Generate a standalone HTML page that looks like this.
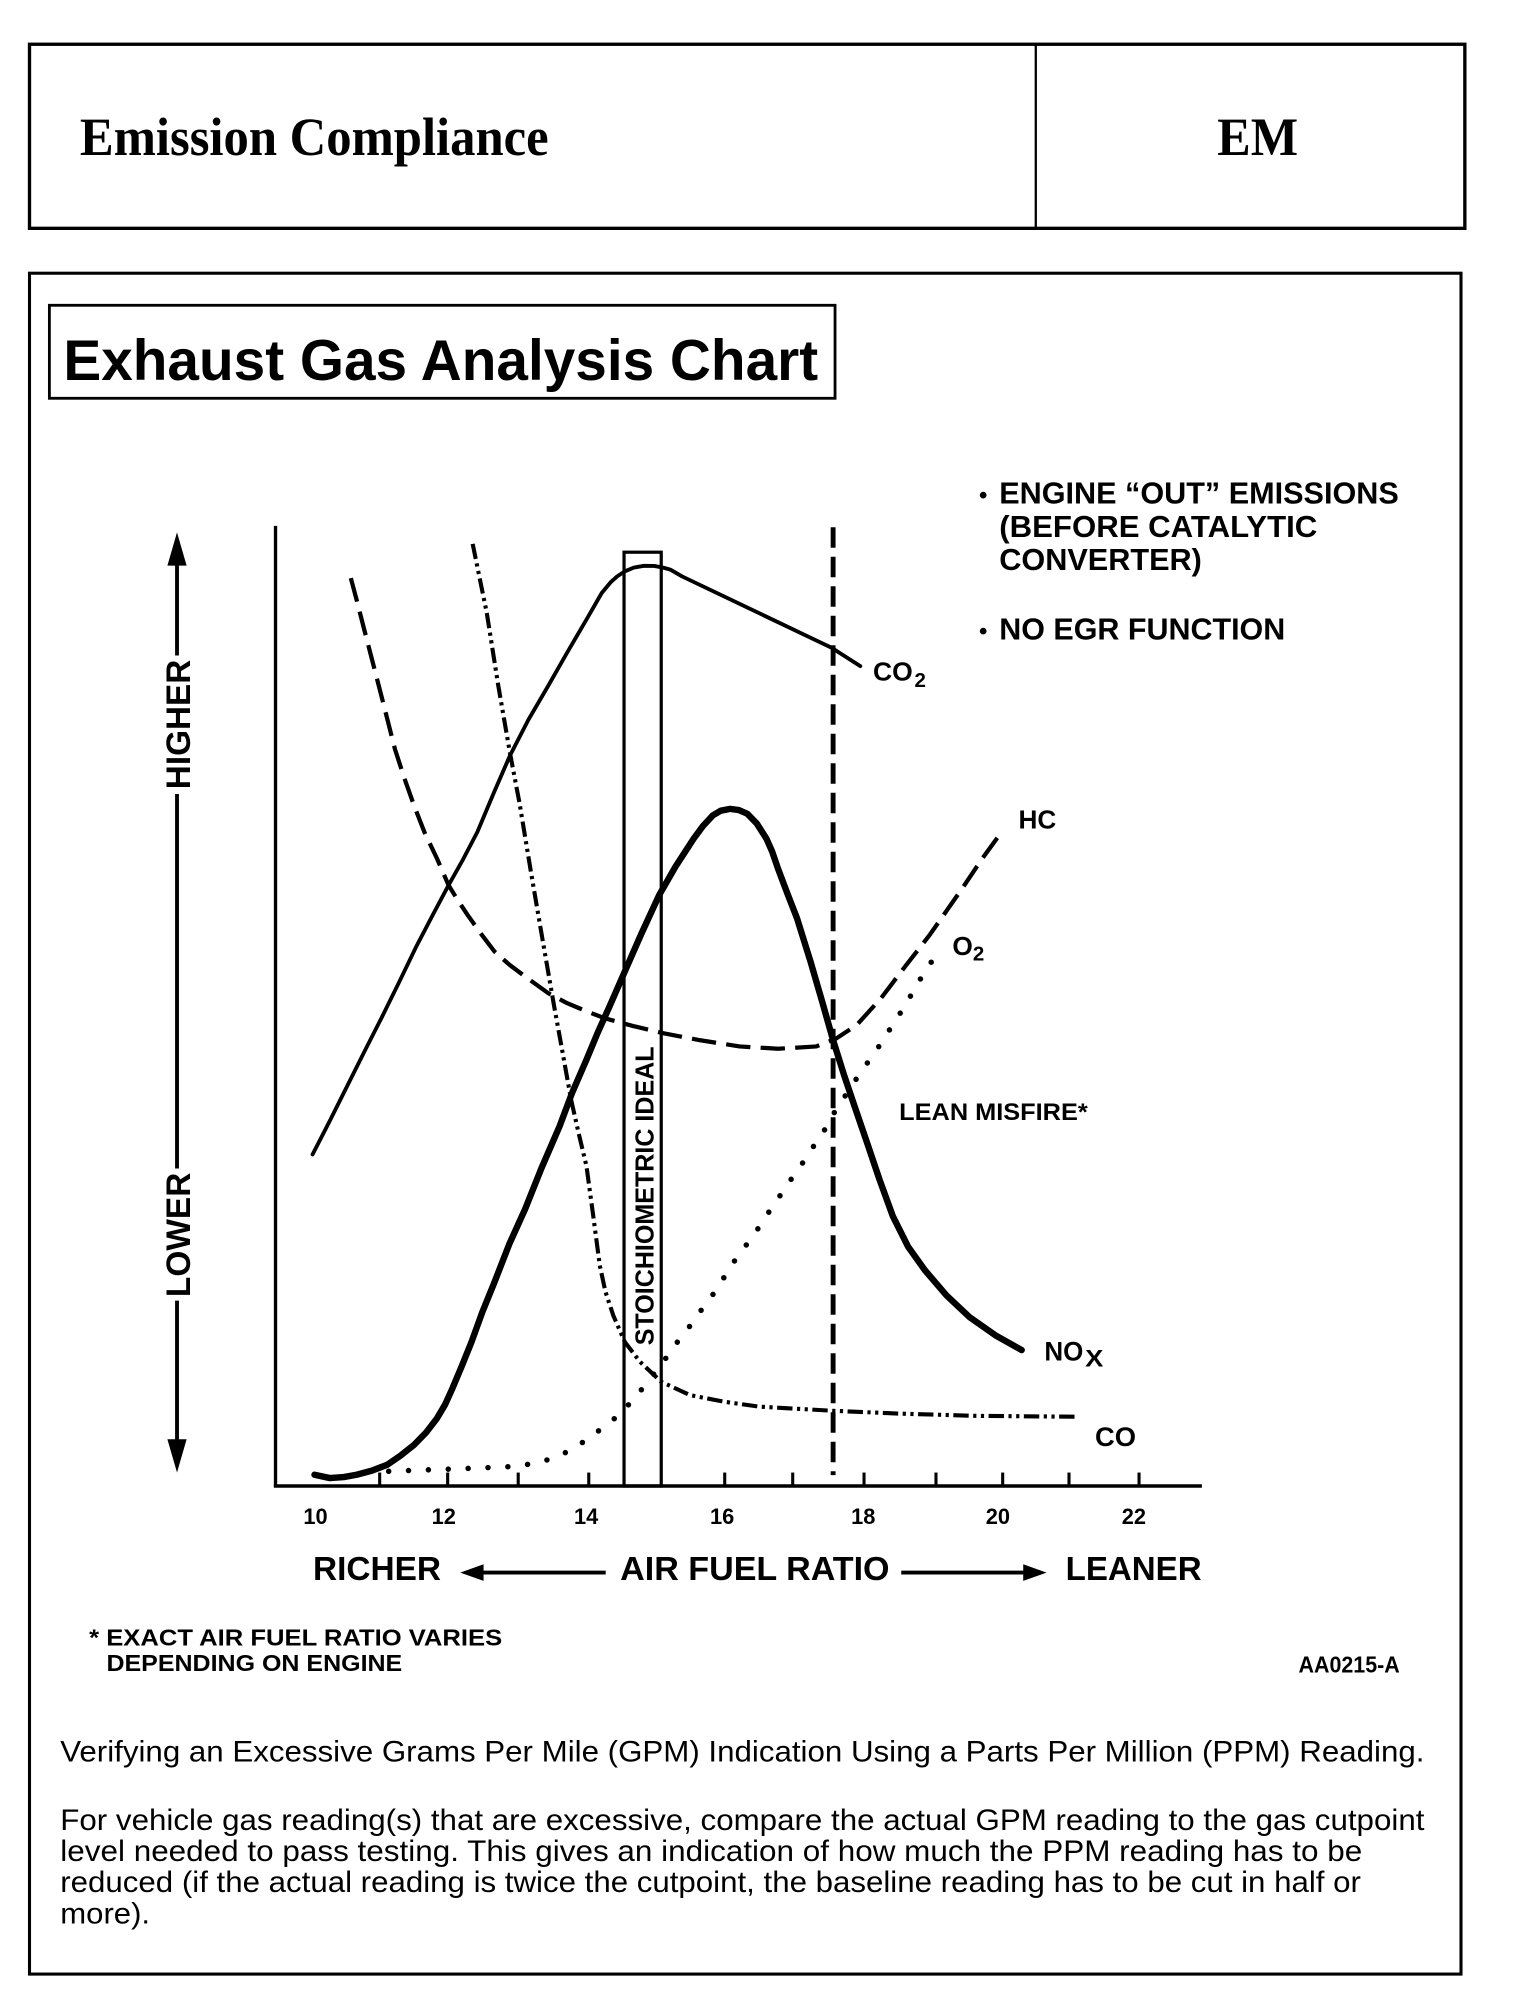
<!DOCTYPE html>
<html>
<head>
<meta charset="utf-8">
<style>
html,body{margin:0;padding:0;background:#fff;}
svg{display:block;}
.s{font-family:"Liberation Sans",Arial,sans-serif;font-weight:bold;fill:#000;}
.r{font-family:"Liberation Sans",Arial,sans-serif;font-weight:normal;fill:#000;}
.t{font-family:"Liberation Serif","Times New Roman",serif;font-weight:bold;fill:#000;}
</style>
</head>
<body>
<svg width="1520" height="2010" viewBox="0 0 1185 1567" preserveAspectRatio="none" xmlns="http://www.w3.org/2000/svg">
<rect x="0" y="0" width="1185" height="1567" fill="#fff"/>

<!-- Header box -->
<rect x="23" y="34.5" width="1119" height="143.5" fill="none" stroke="#000" stroke-width="2.6"/>
<line x1="807.5" y1="35" x2="807.5" y2="178" stroke="#000" stroke-width="1.8"/>
<text class="t" x="62.3" y="120.8" font-size="42" textLength="365.4" lengthAdjust="spacingAndGlyphs">Emission Compliance</text>
<text class="t" x="949" y="120.8" font-size="42" textLength="63" lengthAdjust="spacingAndGlyphs">EM</text>

<!-- Chart box -->
<rect x="23" y="213" width="1116" height="1326" fill="none" stroke="#000" stroke-width="2.4"/>

<!-- Title box -->
<rect x="38.5" y="238" width="612.5" height="72.5" fill="none" stroke="#000" stroke-width="2.2"/>
<text class="s" x="49.4" y="296.3" font-size="45" textLength="588.4" lengthAdjust="spacingAndGlyphs">Exhaust Gas Analysis Chart</text>

<!-- Legend text -->
<circle cx="766.5" cy="386" r="2.6" fill="#000"/>
<circle cx="766.5" cy="492" r="2.6" fill="#000"/>
<text class="s" x="779" y="392.6" font-size="23.5" textLength="311.5" lengthAdjust="spacingAndGlyphs">ENGINE “OUT” EMISSIONS</text>
<text class="s" x="779" y="418.5" font-size="23.5" textLength="248" lengthAdjust="spacingAndGlyphs">(BEFORE CATALYTIC</text>
<text class="s" x="779" y="444.5" font-size="23.5" textLength="158" lengthAdjust="spacingAndGlyphs">CONVERTER)</text>
<text class="s" x="779" y="498.4" font-size="23.5" textLength="223" lengthAdjust="spacingAndGlyphs">NO EGR FUNCTION</text>

<!-- Left vertical arrow -->
<polygon points="138,415 130.5,441 145.5,441" fill="#000"/>
<line x1="138" y1="440" x2="138" y2="511" stroke="#000" stroke-width="3"/>
<line x1="138" y1="619" x2="138" y2="911" stroke="#000" stroke-width="3"/>
<line x1="138" y1="1014" x2="138" y2="1124" stroke="#000" stroke-width="3"/>
<polygon points="138,1148 130.5,1122 145.5,1122" fill="#000"/>
<text class="s" transform="translate(148,564.8) rotate(-90)" x="0" y="0" font-size="27" text-anchor="middle" textLength="101" lengthAdjust="spacingAndGlyphs">HIGHER</text>
<text class="s" transform="translate(148,962.7) rotate(-90)" x="0" y="0" font-size="27" text-anchor="middle" textLength="97" lengthAdjust="spacingAndGlyphs">LOWER</text>

<!-- Axes -->
<line x1="214.8" y1="410" x2="214.8" y2="1159" stroke="#000" stroke-width="2.6"/>
<line x1="213.5" y1="1158.5" x2="937" y2="1158.5" stroke="#000" stroke-width="2.8"/>
<g stroke="#000" stroke-width="2.4">
<line x1="296" y1="1148" x2="296" y2="1158"/>
<line x1="349" y1="1148" x2="349" y2="1158"/>
<line x1="404" y1="1148" x2="404" y2="1158"/>
<line x1="459" y1="1148" x2="459" y2="1158"/>
<line x1="565" y1="1148" x2="565" y2="1158"/>
<line x1="618" y1="1148" x2="618" y2="1158"/>
<line x1="673.6" y1="1148" x2="673.6" y2="1158"/>
<line x1="729.7" y1="1148" x2="729.7" y2="1158"/>
<line x1="781.7" y1="1148" x2="781.7" y2="1158"/>
<line x1="833.4" y1="1148" x2="833.4" y2="1158"/>
<line x1="888" y1="1148" x2="888" y2="1158"/>
</g>
<g class="s" font-size="17" text-anchor="middle">
<text x="246" y="1188">10</text>
<text x="346" y="1188">12</text>
<text x="457" y="1188">14</text>
<text x="563" y="1188">16</text>
<text x="673" y="1188">18</text>
<text x="778" y="1188">20</text>
<text x="884" y="1188">22</text>
</g>

<!-- Stoichiometric box -->
<rect x="486.5" y="430.5" width="29" height="728" fill="none" stroke="#000" stroke-width="2.5"/>
<text class="s" transform="translate(509.4,932.3) rotate(-90)" x="0" y="0" font-size="20" text-anchor="middle" textLength="233" lengthAdjust="spacingAndGlyphs">STOICHIOMETRIC IDEAL</text>

<!-- Vertical dashed line -->
<line x1="649.5" y1="411" x2="649.5" y2="1150" stroke="#000" stroke-width="3.8" stroke-dasharray="16 7"/>

<!-- CO2 -->
<polyline fill="none" stroke="#000" stroke-width="3" stroke-linejoin="round" stroke-linecap="round"
points="243.7,900 257,874 270,848 284,820 297.4,793.6 311,766 324,739 337,714 349.7,690.1 361,670 372.1,648.7 385,618 397.5,589.2 412,561 427.3,534.8 442,509 457.2,483 469.1,462.3 476,454 481.1,449.4 487,445.5 494,442.5 502,441.1 510,441.2 517,442.5 522.9,444.2 531.8,449.4 648.3,505 670.7,519.3"/>

<!-- HC -->
<polyline fill="none" stroke="#000" stroke-width="3.3" stroke-linejoin="round" stroke-dasharray="19 8"
points="273.5,450.7 278,467.5 284,491 290,514.1 299,549 307.9,584 315,606 322.8,628 331,649 340.7,669.4 349.7,690.1 357,702 364.6,713.4 375,728 385.5,741.8 397,752 409.4,761.3 427.3,774.2 442,782 457.2,788.4 472,794 494,800 517,805.5 546,811 576.6,815.8 606.5,817.6 636.3,815.8 651.3,810 668,799 687,778 706,753 724.7,729 738,710 751.2,691.1 766,669 781.5,647.7"/>

<!-- CO -->
<polyline fill="none" stroke="#000" stroke-width="3.2" stroke-linejoin="round" stroke-dasharray="12 3.5 2.5 3.5 2.5 3.5"
points="368.5,424 374,451 379.5,477.9 388.5,534.8 397.5,586.6 404.9,625.4 413.9,679.7 422.8,731.5 431.8,783.3 438.5,820 445.2,857.2 451,883 457.2,909 462.5,948 467.6,986.6 472,1007 478.1,1025.5 487.1,1046.2 499,1061.7 515.4,1077.2 537.8,1087.6 564.7,1092.8 591.6,1096.6 648.3,1099.8 700,1102 760,1103.8 840.7,1104.5"/>

<!-- O2 dotted -->
<polyline fill="none" stroke="#000" stroke-width="4.3" stroke-linecap="round" stroke-linejoin="round" stroke-dasharray="0 15.5"
points="303,1147 330,1146 360,1145 401.9,1143.2 418,1140.5 431.8,1136.7 445,1130.5 457.2,1122.5 470,1113 482.6,1103.1 492,1093 502,1081.1 511,1069.5 519.9,1057.8 529,1045 539.3,1031.9 548,1019.5 557.2,1007.3 565,995 573.6,981.5 583,969 591.6,956.9 600,944 608,932.3 617,919 625.9,906.4 634,894 642.3,881.8 650,868 658.7,854.7 667,842 675.2,830.1 685.1,815.9 694,802 702.1,789.4 709,778 715.3,766.8 724,753 732.3,741"/>

<!-- NOx -->
<polyline fill="none" stroke="#000" stroke-width="5" stroke-linejoin="round" stroke-linecap="round"
points="245.2,1149.7 257.1,1152.3 268,1151.5 278,1149.7 290,1146.5 301.9,1141.9 312,1135 322.8,1126.4 332,1117 340.7,1105.7 347,1095 352.7,1082.4 360,1065 367.6,1046.2 376,1023 385.5,999.6 397,970 409.4,942.6 422,911 436.3,877.9 446,852 457.2,826.2 466,805 475.1,784.8 487.1,757.4 500,728 513.9,697.8 527,675 540.8,653.8 548,644 555.7,635.7 562,632 569.2,630.6 576,631.5 582.6,634.4 590,642 597.5,653.8 602,664 606.5,677.1 614,697 621.4,716 632,750 641,781 649.5,811 658,838 666.2,862.4 676,891 685.6,919.4 696,948 708,972 721,990.2 738,1010 755.7,1026.7 776,1041 796.5,1052.5"/>

<!-- Curve labels -->
<text class="s" x="680.6" y="530.5" font-size="20.5" textLength="31" lengthAdjust="spacingAndGlyphs">CO</text>
<text class="s" x="713" y="535.5" font-size="16">2</text>
<text class="s" x="794" y="645.8" font-size="20.5" textLength="29.5" lengthAdjust="spacingAndGlyphs">HC</text>
<text class="s" x="742.5" y="744.5" font-size="20.5">O</text>
<text class="s" x="758.5" y="749" font-size="16">2</text>
<text class="s" x="701" y="873" font-size="19" textLength="147" lengthAdjust="spacingAndGlyphs">LEAN MISFIRE*</text>
<text class="s" x="814.2" y="1060.8" font-size="21" textLength="30.4" lengthAdjust="spacingAndGlyphs">NO</text>
<text class="s" x="846" y="1065.5" font-size="19" textLength="14.2" lengthAdjust="spacingAndGlyphs">X</text>
<text class="s" x="853.7" y="1127.3" font-size="21" textLength="32" lengthAdjust="spacingAndGlyphs">CO</text>

<!-- Axis title -->
<text class="s" x="244" y="1231.8" font-size="26" textLength="99.8" lengthAdjust="spacingAndGlyphs">RICHER</text>
<line x1="374" y1="1226" x2="472.2" y2="1226" stroke="#000" stroke-width="3"/>
<polygon points="358.8,1226 377,1219.5 377,1232.5" fill="#000"/>
<text class="s" x="483.5" y="1231.8" font-size="26" textLength="210" lengthAdjust="spacingAndGlyphs">AIR FUEL RATIO</text>
<line x1="702.6" y1="1226" x2="800" y2="1226" stroke="#000" stroke-width="3"/>
<polygon points="815.9,1226 797.7,1219.5 797.7,1232.5" fill="#000"/>
<text class="s" x="830.8" y="1231.8" font-size="26" textLength="106" lengthAdjust="spacingAndGlyphs">LEANER</text>

<!-- Footnote -->
<text class="s" x="69.5" y="1282.8" font-size="18" textLength="322" lengthAdjust="spacingAndGlyphs">* EXACT AIR FUEL RATIO VARIES</text>
<text class="s" x="83" y="1302.6" font-size="18" textLength="230.6" lengthAdjust="spacingAndGlyphs">DEPENDING ON ENGINE</text>
<text class="s" x="1012.3" y="1304" font-size="18" textLength="79" lengthAdjust="spacingAndGlyphs">AA0215-A</text>

<!-- Paragraphs -->
<text class="r" x="47" y="1373.4" font-size="23" textLength="1063.5" lengthAdjust="spacingAndGlyphs">Verifying an Excessive Grams Per Mile (GPM) Indication Using a Parts Per Million (PPM) Reading.</text>
<text class="r" x="47" y="1426.5" font-size="23" textLength="1063.5" lengthAdjust="spacingAndGlyphs">For vehicle gas reading(s) that are excessive, compare the actual GPM reading to the gas cutpoint</text>
<text class="r" x="47" y="1450.8" font-size="23" textLength="1015" lengthAdjust="spacingAndGlyphs">level needed to pass testing. This gives an indication of how much the PPM reading has to be</text>
<text class="r" x="47" y="1475" font-size="23" textLength="1014" lengthAdjust="spacingAndGlyphs">reduced (if the actual reading is twice the cutpoint, the baseline reading has to be cut in half or</text>
<text class="r" x="47" y="1499.5" font-size="23" textLength="70" lengthAdjust="spacingAndGlyphs">more).</text>
</svg>
</body>
</html>
